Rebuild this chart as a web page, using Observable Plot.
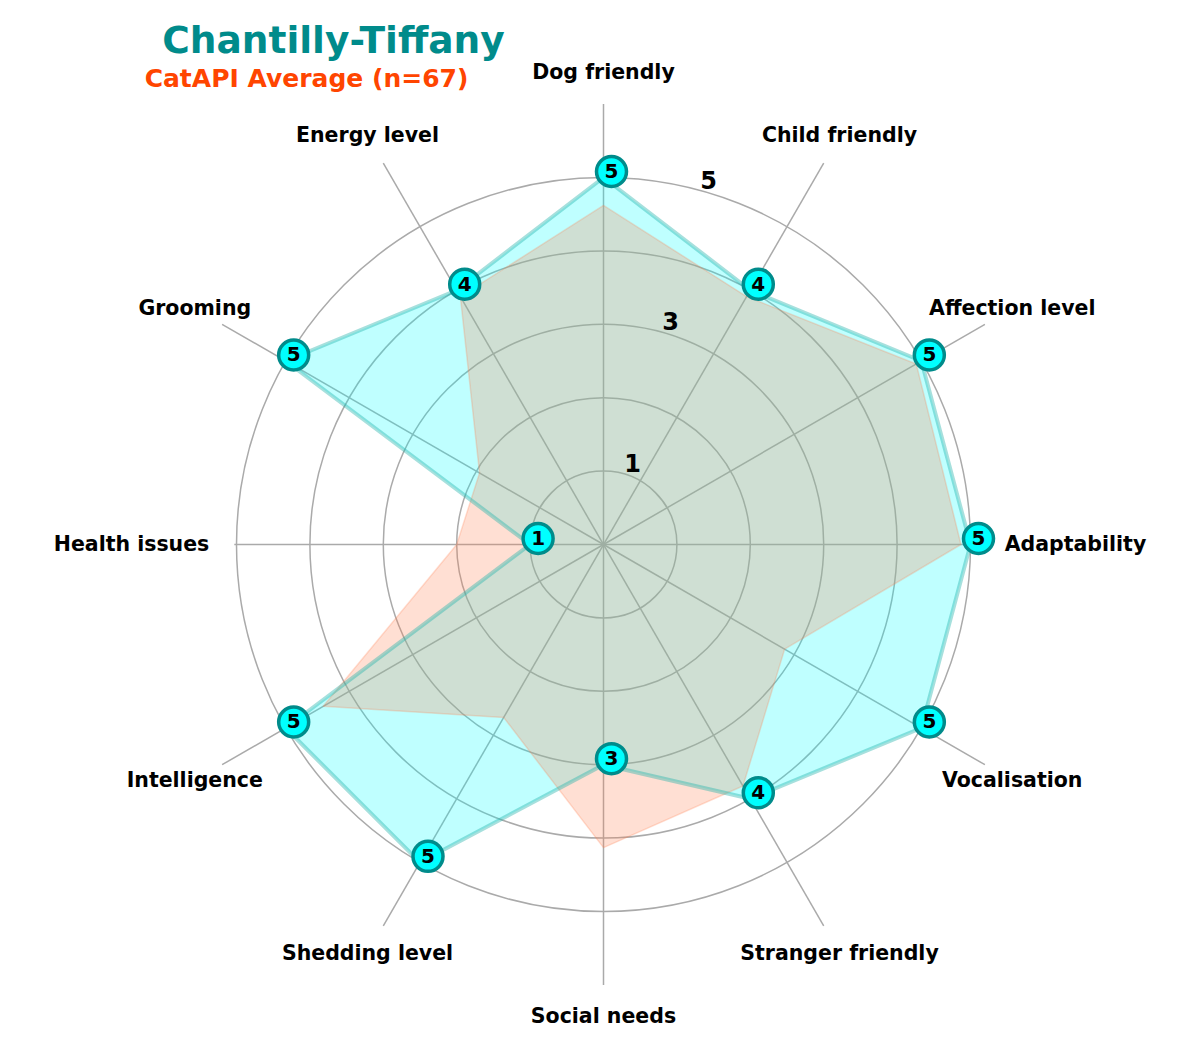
<!DOCTYPE html>
<html>
<head>
<meta charset="utf-8">
<script src="https://cdn.jsdelivr.net/npm/d3@7"></script>
<script src="https://cdn.jsdelivr.net/npm/@observablehq/plot@0.6"></script>
<style>
  body { margin: 0; background: #fff; font-family: "DejaVu Sans", sans-serif; }
  #chart svg { display: block; }
</style>
</head>
<body>
<div id="chart"></div>
<script>
// ---- data ----
const titleText = "Chantilly-Tiffany";
const subtitleText = "CatAPI Average (n=67)";
const categories = ["Dog friendly", "Child friendly", "Affection level", "Adaptability",
  "Vocalisation", "Stranger friendly", "Social needs", "Shedding level",
  "Intelligence", "Health issues", "Grooming", "Energy level"];
const breedValues = [5, 4, 5, 5, 5, 4, 3, 5, 5, 1, 5, 4];
const averageValues = [4.62, 3.9, 4.92, 4.87, 2.85, 3.8, 4.13, 2.72, 4.41, 2.0, 1.95, 3.9];
const ringTicks = [1, 2, 3, 4, 5];
const ringLabelTicks = [1, 3, 5];

// ---- layout ----
const W = 1200, H = 1050;
const cx = 603, cy = 544, unit = 73.4;
const rad = deg => deg * Math.PI / 180;

const table = categories.map((c, i) => ({
  cat: c,
  angle: rad(90 - 30 * i),
  breed: breedValues[i],
  avg: averageValues[i]
}));
const px = (r, a) => r * Math.cos(a);
const py = (r, a) => r * Math.sin(a);
const spokeLen = d => Math.abs(Math.sin(d.angle)) < 0.01 ? 5.03 : 6;
const labelR = 6.43;
const rlabelAngle = rad(75);

const font = "DejaVu Sans, sans-serif";

const chart = Plot.plot({
  width: W,
  height: H,
  margin: 0,
  style: { fontFamily: font, background: "white" },
  x: { domain: [-cx / unit, (W - cx) / unit], range: [0, W], axis: null },
  y: { domain: [-(H - cy) / unit, cy / unit], range: [H, 0], axis: null },
  r: { type: "linear", domain: [0, 1], range: [0, unit] },
  marks: [
    // rings
    Plot.dot(ringTicks, { x: 0, y: 0, r: d => d, fill: "none", stroke: "#aaaaaa", strokeWidth: 1.5 }),
    // spokes
    Plot.link(table, {
      x1: 0, y1: 0,
      x2: d => px(spokeLen(d), d.angle),
      y2: d => py(spokeLen(d), d.angle),
      stroke: "#aaaaaa", strokeWidth: 1.5
    }),
    // breed polygon fill
    Plot.line(table, {
      x: d => px(d.breed, d.angle), y: d => py(d.breed, d.angle),
      curve: "linear-closed", fill: "#00FFFF", fillOpacity: 0.25, stroke: "none"
    }),
    // average polygon
    Plot.line(table, {
      x: d => px(d.avg, d.angle), y: d => py(d.avg, d.angle),
      curve: "linear-closed", fill: "#FF7F50", fillOpacity: 0.25,
      stroke: "#FF7F50", strokeOpacity: 0.25, strokeWidth: 1.5
    }),
    // breed polygon edge
    Plot.line(table, {
      x: d => px(d.breed, d.angle), y: d => py(d.breed, d.angle),
      curve: "linear-closed", stroke: "#20B2AA", strokeOpacity: 0.4, strokeWidth: 4
    }),
    // ring labels
    Plot.text(ringLabelTicks, {
      x: d => px(d, rlabelAngle), y: d => py(d, rlabelAngle),
      text: d => String(d), dx: 10, dy: -9,
      fontSize: 24, fontWeight: "bold", fill: "black", lineAnchor: "middle", textAnchor: "middle"
    }),
    // axis labels
    Plot.text(table, {
      x: d => px(labelR, d.angle), y: d => py(labelR, d.angle),
      text: "cat", fontSize: 20.5, fontWeight: "bold", fill: "black",
      lineAnchor: "middle", textAnchor: "middle"
    }),
    // markers
    Plot.dot(table, {
      x: d => px(d.breed, d.angle), y: d => py(d.breed, d.angle),
      dx: 8, dy: -6, r: 15, fill: "#00FFFF", stroke: "#008B8B", strokeWidth: 3.5
    }),
    Plot.text(table, {
      x: d => px(d.breed, d.angle), y: d => py(d.breed, d.angle),
      text: d => String(d.breed), dx: 8, dy: -6,
      fontSize: 20, fontWeight: "bold", fill: "black", lineAnchor: "middle", textAnchor: "middle"
    }),
    // title + subtitle
    Plot.text([titleText], {
      frameAnchor: "top-left", dx: 333, dy: 52, text: d => d,
      fontSize: 37.5, fontWeight: "bold", fill: "#008B8B", textAnchor: "middle", lineAnchor: "bottom"
    }),
    Plot.text([subtitleText], {
      frameAnchor: "top-left", dx: 306, dy: 86, text: d => d,
      fontSize: 25, fontWeight: "bold", fill: "#FF4500", textAnchor: "middle", lineAnchor: "bottom"
    })
  ]
});
document.getElementById("chart").appendChild(chart);
</script>
</body>
</html>
